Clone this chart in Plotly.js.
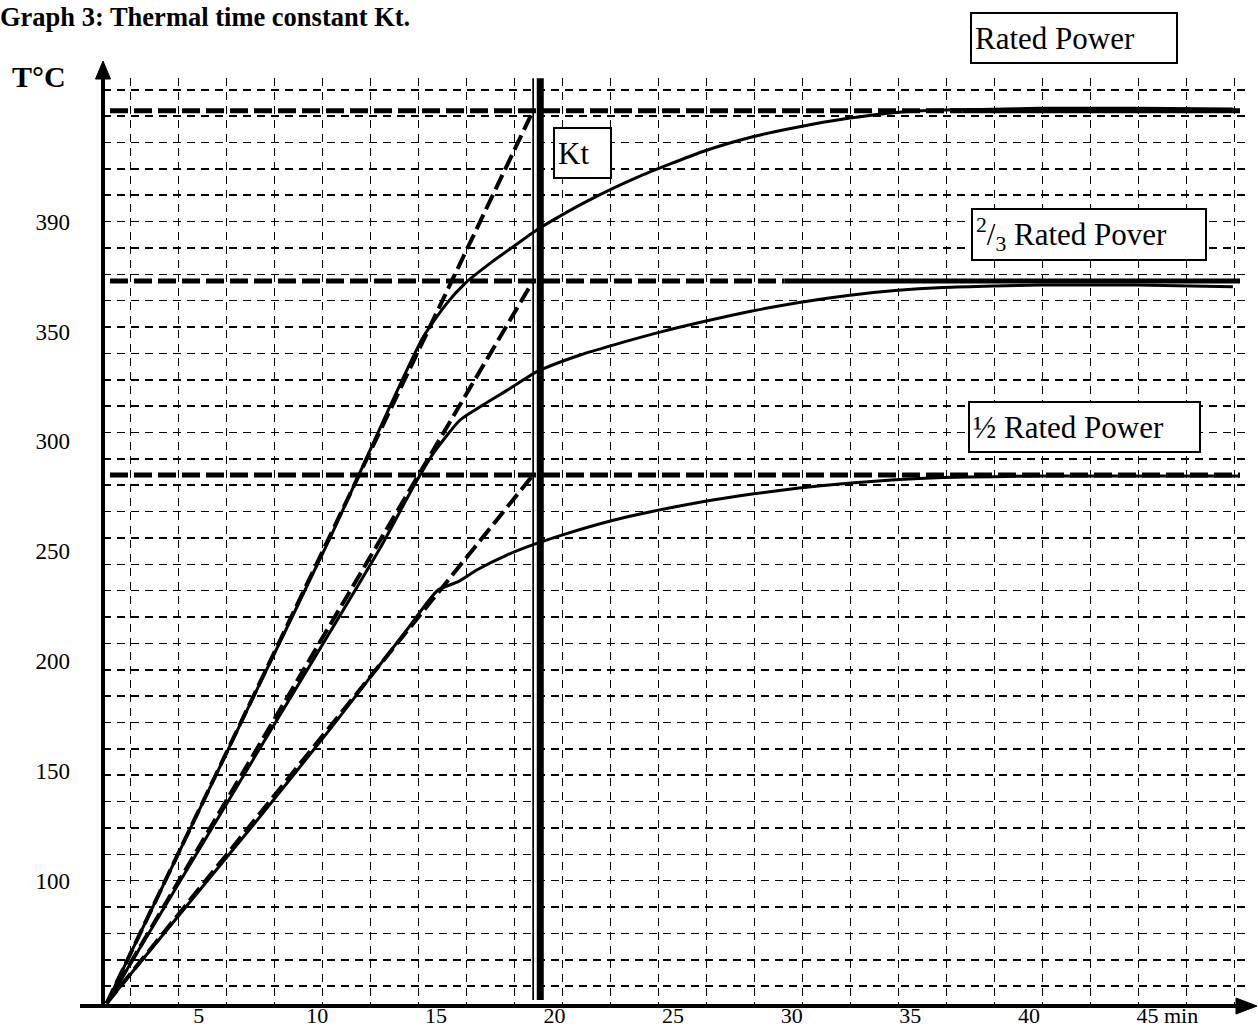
<!DOCTYPE html>
<html>
<head>
<meta charset="utf-8">
<script src="https://cdn.plot.ly/plotly-3.0.1.min.js"></script>
<style>
html, body { margin: 0; padding: 0; background: #fff; }
#chart { width: 1258px; height: 1029px; }
</style>
</head>
<body>
<div id="chart"></div>
<script>
// ---------------- data ----------------
// time in minutes, temperature in °C, as given by the drawn axis labels
const timeRated = [1.12, 7.16, 10.54, 12.99, 14.47, 15.46, 16.23, 17.28, 18.26, 19.25, 20.23, 21.36, 23.48, 26.23, 28.36, 30.33, 32.38, 34.38, 36.38, 38.49, 40.47, 44.56, 48.6];
const tempRated = [44.2, 180.4, 256.0, 314.2, 347.6, 362.8, 371.9, 381.0, 388.6, 396.2, 402.5, 409.2, 420.1, 431.8, 438.6, 443.2, 447.0, 449.7, 450.8, 451.1, 451.6, 451.6, 451.3];

const timeTwoThirds = [1.12, 7.16, 12.65, 14.05, 14.89, 16.02, 16.86, 18.12, 19.26, 21.08, 22.47, 24.45, 26.30, 28.33, 30.31, 32.37, 34.36, 36.38, 38.49, 40.47, 44.56, 48.6];
const tempTwoThirds = [44.2, 152.7, 251.4, 279.3, 294.5, 309.7, 315.7, 324.0, 331.7, 339.3, 343.8, 349.7, 354.5, 359.3, 363.2, 366.4, 368.6, 370.0, 370.7, 371.1, 371.1, 370.4];

const timeHalf = [1.12, 7.16, 10.54, 13.77, 15.09, 15.94, 16.72, 17.99, 19.25, 20.51, 22.20, 23.61, 26.30, 28.33, 30.31, 32.37, 34.36, 36.38, 38.49, 40.47, 44.56, 48.9];
const tempHalf = [44.2, 123.5, 169.0, 214.1, 232.3, 236.1, 241.4, 248.2, 253.5, 258.0, 263.3, 266.9, 272.6, 276.0, 278.7, 280.9, 282.5, 283.5, 283.9, 284.2, 284.2, 284.2];

const origin = [1.12, 44.2];                       // common start of all curves
const asymptoteLevels = [450.5, 373.0, 284.7];     // final temperatures
const asymptoteStart = 1.26;
const asymptoteEnd = 48.9;
const asymptoteSolidFrom = [37.2, 29.7, null];     // where the drawn line turns solid
const ktTimes = [19.1, 19.4];                      // thermal time constant Kt (double line)
const ktSpan = [45.7, 465.3];

const xTickVals = [5, 10, 15, 20, 25, 30, 35, 40, 45];
const xTickText = ['5', '10', '15', '20', '25', '30', '35', '40', '45'];
const yTickVals = [100, 150, 200, 250, 300, 350, 400];
const yTickText = ['100', '150', '200', '250', '300', '350', '390'];

const boxTexts = ['Rated Power', '<sup>2</sup>/<sub>3</sub> Rated Pover', '\u00BD Rated Power', 'Kt'];

// ---------------- geometry / style ----------------
const W = 1258, H = 1029;
const L = 103, R = 1247, T = 78, B = 1006;
const pxPerMin = 23.72, x0px = 80.1;
const pxPerDeg = 2.197, y100px = 880.7;
const toMin = p => (p - x0px) / pxPerMin;
const toDeg = p => 100 + (y100px - p) / pxPerDeg;
const paperX = p => (p - L) / (R - L);
const paperY = p => (B - p) / (B - T);

const black = '#000';
const serif = 'Liberation Serif, Times New Roman, Times, serif';

const traces = [];
asymptoteLevels.forEach((lvl, i) => {
  const solidFrom = asymptoteSolidFrom[i];
  traces.push({x: [asymptoteStart, solidFrom == null ? asymptoteEnd : solidFrom], y: [lvl, lvl],
    mode: 'lines', line: {color: black, width: 5, dash: '18px,6px'}, hoverinfo: 'skip'});
  if (solidFrom != null) {
    traces.push({x: [solidFrom, asymptoteEnd], y: [lvl, lvl], mode: 'lines',
      line: {color: black, width: 5}, hoverinfo: 'skip'});
  }
  traces.push({x: [origin[0], ktTimes[0]], y: [origin[1], lvl], mode: 'lines',
    line: {color: black, width: 4, dash: '16px,6px'}, hoverinfo: 'skip'});
});
[[timeRated, tempRated], [timeTwoThirds, tempTwoThirds], [timeHalf, tempHalf]].forEach(([x, y]) => {
  traces.push({x, y, mode: 'lines', line: {color: black, width: 3, shape: 'spline', smoothing: 0.6}});
});
traces.push({x: [ktTimes[0], ktTimes[0]], y: ktSpan, mode: 'lines', line: {color: black, width: 1.7}});
traces.push({x: [ktTimes[1], ktTimes[1]], y: ktSpan, mode: 'lines', line: {color: black, width: 7}});

function box(text, cx, cy, w, h) {
  return {text, xref: 'paper', yref: 'paper', x: paperX(cx), y: paperY(cy),
    xanchor: 'center', yanchor: 'middle', showarrow: false, align: 'left', valign: 'middle',
    width: w - 10, height: h - 10, bgcolor: '#fff', bordercolor: black, borderwidth: 2, borderpad: 3,
    font: {family: serif, size: 31, color: black}};
}

const annotations = [
  {text: '<b>T°C</b>', xref: 'paper', yref: 'paper', x: paperX(39), y: paperY(77),
    xanchor: 'center', yanchor: 'middle', showarrow: false, font: {family: serif, size: 30, color: black}},
  {text: 'min', xref: 'x', yref: 'paper', x: 45, y: paperY(1015), xshift: 14,
    xanchor: 'left', yanchor: 'middle', showarrow: false, font: {family: serif, size: 22, color: black}},
  box(boxTexts[0], 1074, 38, 208, 52),
  box(boxTexts[1], 1088.9, 234.5, 236, 53),
  box(boxTexts[2], 1084.5, 426.7, 233, 52),
  box(boxTexts[3], 582.2, 152.9, 59, 52)
];

// axis lines with arrow heads (paper coordinates)
const pt = (x, y) => paperX(x) + ',' + paperY(y);
const shapes = [
  {type: 'line', xref: 'paper', yref: 'paper', x0: 0, x1: 0, y0: paperY(1008), y1: paperY(74),
    line: {color: black, width: 4}},
  {type: 'line', xref: 'paper', yref: 'paper', x0: paperX(80), x1: paperX(1240), y0: 0, y1: 0,
    line: {color: black, width: 4}},
  {type: 'path', xref: 'paper', yref: 'paper',
    path: 'M' + pt(103, 61) + 'L' + pt(110.5, 79) + 'L' + pt(95.5, 79) + 'Z',
    fillcolor: black, line: {color: black, width: 1}},
  {type: 'path', xref: 'paper', yref: 'paper',
    path: 'M' + pt(1257, 1006) + 'L' + pt(1236, 998) + 'L' + pt(1236, 1014) + 'Z',
    fillcolor: black, line: {color: black, width: 1}}
];

const layout = {
  width: W, height: H,
  margin: {l: L, r: W - R, t: T, b: H - B, pad: 0},
  paper_bgcolor: '#fff', plot_bgcolor: '#fff',
  showlegend: false,
  font: {family: serif, color: black, size: 22},
  title: {text: '<b>Graph 3: Thermal time constant Kt.</b>', font: {family: serif, size: 26.5, color: black},
    x: 0, xref: 'container', xanchor: 'left', y: 1 - 17 / H, yref: 'container', yanchor: 'middle'},
  xaxis: {range: [toMin(L), toMin(R)], tickmode: 'array', tickvals: xTickVals, ticktext: xTickText,
    ticks: '', showgrid: false, zeroline: false, showline: false, ticklabelstandoff: -6,
    tickfont: {family: serif, size: 22, color: black},
    minor: {tickmode: 'linear', tick0: toMin(130.5), dtick: 48.0 / pxPerMin, showgrid: true,
      gridcolor: black, gridwidth: 1.5, griddash: '8px,6px', ticks: ''}},
  yaxis: {range: [toDeg(B), toDeg(T)], tickmode: 'array', tickvals: yTickVals, ticktext: yTickText,
    ticks: '', showgrid: false, zeroline: false, showline: false, ticklabelstandoff: 32,
    tickfont: {family: serif, size: 23, color: black},
    minor: {tickmode: 'linear', tick0: 4.001, dtick: 12, showgrid: true,
      gridcolor: black, gridwidth: 1.5, griddash: '8px,6px', ticks: ''}},
  annotations,
  shapes
};

Plotly.newPlot('chart', traces, layout, {displayModeBar: false, staticPlot: true});
</script>
</body>
</html>
